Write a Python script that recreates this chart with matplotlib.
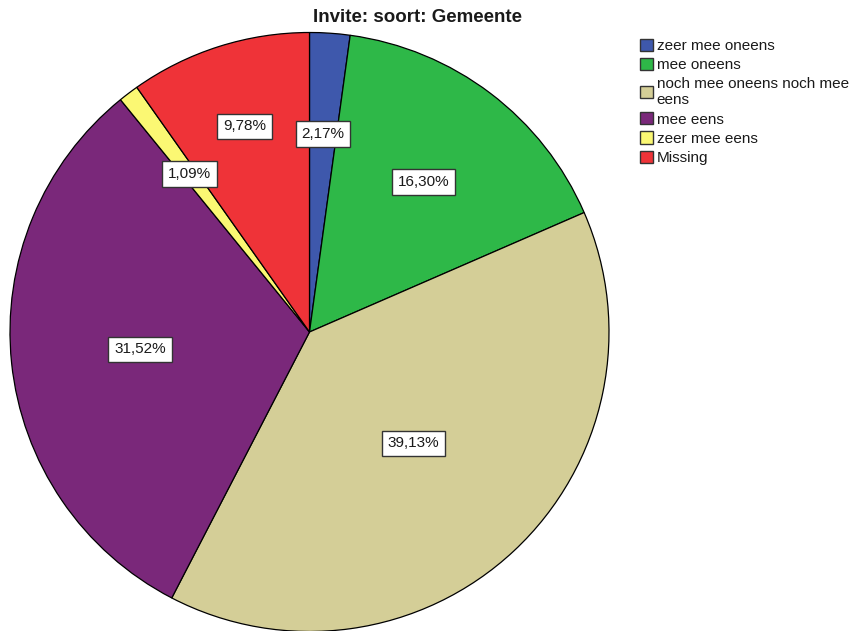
import matplotlib
matplotlib.use("Agg")
import matplotlib.pyplot as plt
import numpy as np
from matplotlib.patches import Patch

plt.rcParams['font.family'] = ['Liberation Sans', 'DejaVu Sans']

title = "Invite: soort: Gemeente"
categories = ["zeer mee oneens", "mee oneens", "noch mee oneens noch mee eens",
              "mee eens", "zeer mee eens", "Missing"]
legend_labels = ["zeer mee oneens", "mee oneens", "noch mee oneens noch mee\neens",
                 "mee eens", "zeer mee eens", "Missing"]
percentages = [2.17, 16.30, 39.13, 31.52, 1.09, 9.78]
colors = ["#3E58AC", "#2EB848", "#D4CE97", "#7A287A", "#FBF873", "#EF3338"]

# radial position of each value box, as a fraction of the pie radius
label_radius = [0.663, 0.629, 0.509, 0.569, 0.662, 0.72]

W, H = 854, 631
fig = plt.figure(figsize=(W / 100, H / 100), dpi=100)

cx, cy, R = 309.5, 332.0, 299.5  # pie centre and radius in pixels (from top)
ax = fig.add_axes([(cx - R) / W, (H - cy - R) / H, 2 * R / W, 2 * R / H])

wedges, _ = ax.pie(percentages, colors=colors, startangle=90, counterclock=False,
                   radius=1, center=(0, 0), frame=False,
                   wedgeprops=dict(edgecolor="black", linewidth=0.9))
ax.set_xlim(-1, 1)
ax.set_ylim(-1, 1)
ax.set_aspect("auto")
ax.axis("off")

for w, p, r in zip(wedges, percentages, label_radius):
    mid = np.deg2rad((w.theta1 + w.theta2) / 2)
    x, y = r * np.cos(mid), r * np.sin(mid)
    ax.text(x, y, f"{p:.2f}%".replace(".", ","), ha="center", va="center",
            fontsize=11, color="#1a1a1a",
            bbox=dict(boxstyle="square,pad=0.38", facecolor="white",
                      edgecolor="#333333", linewidth=1.0))

fig.text(417.5 / W, 1 - 17 / H, title, ha="center", va="center",
         fontsize=13.5, fontweight="bold", color="#1a1a1a")

handles = [Patch(facecolor=c, edgecolor="#333333", linewidth=1.0) for c in colors]
fig.legend(handles, legend_labels, loc="upper left",
           bbox_to_anchor=(640 / W, 1 - 38.5 / H), frameon=False,
           fontsize=11, borderpad=0, borderaxespad=0,
           handlelength=0.85, handleheight=0.85, handletextpad=0.25,
           labelspacing=0.32, labelcolor="#1a1a1a")

fig.savefig("out.png", dpi=100)
